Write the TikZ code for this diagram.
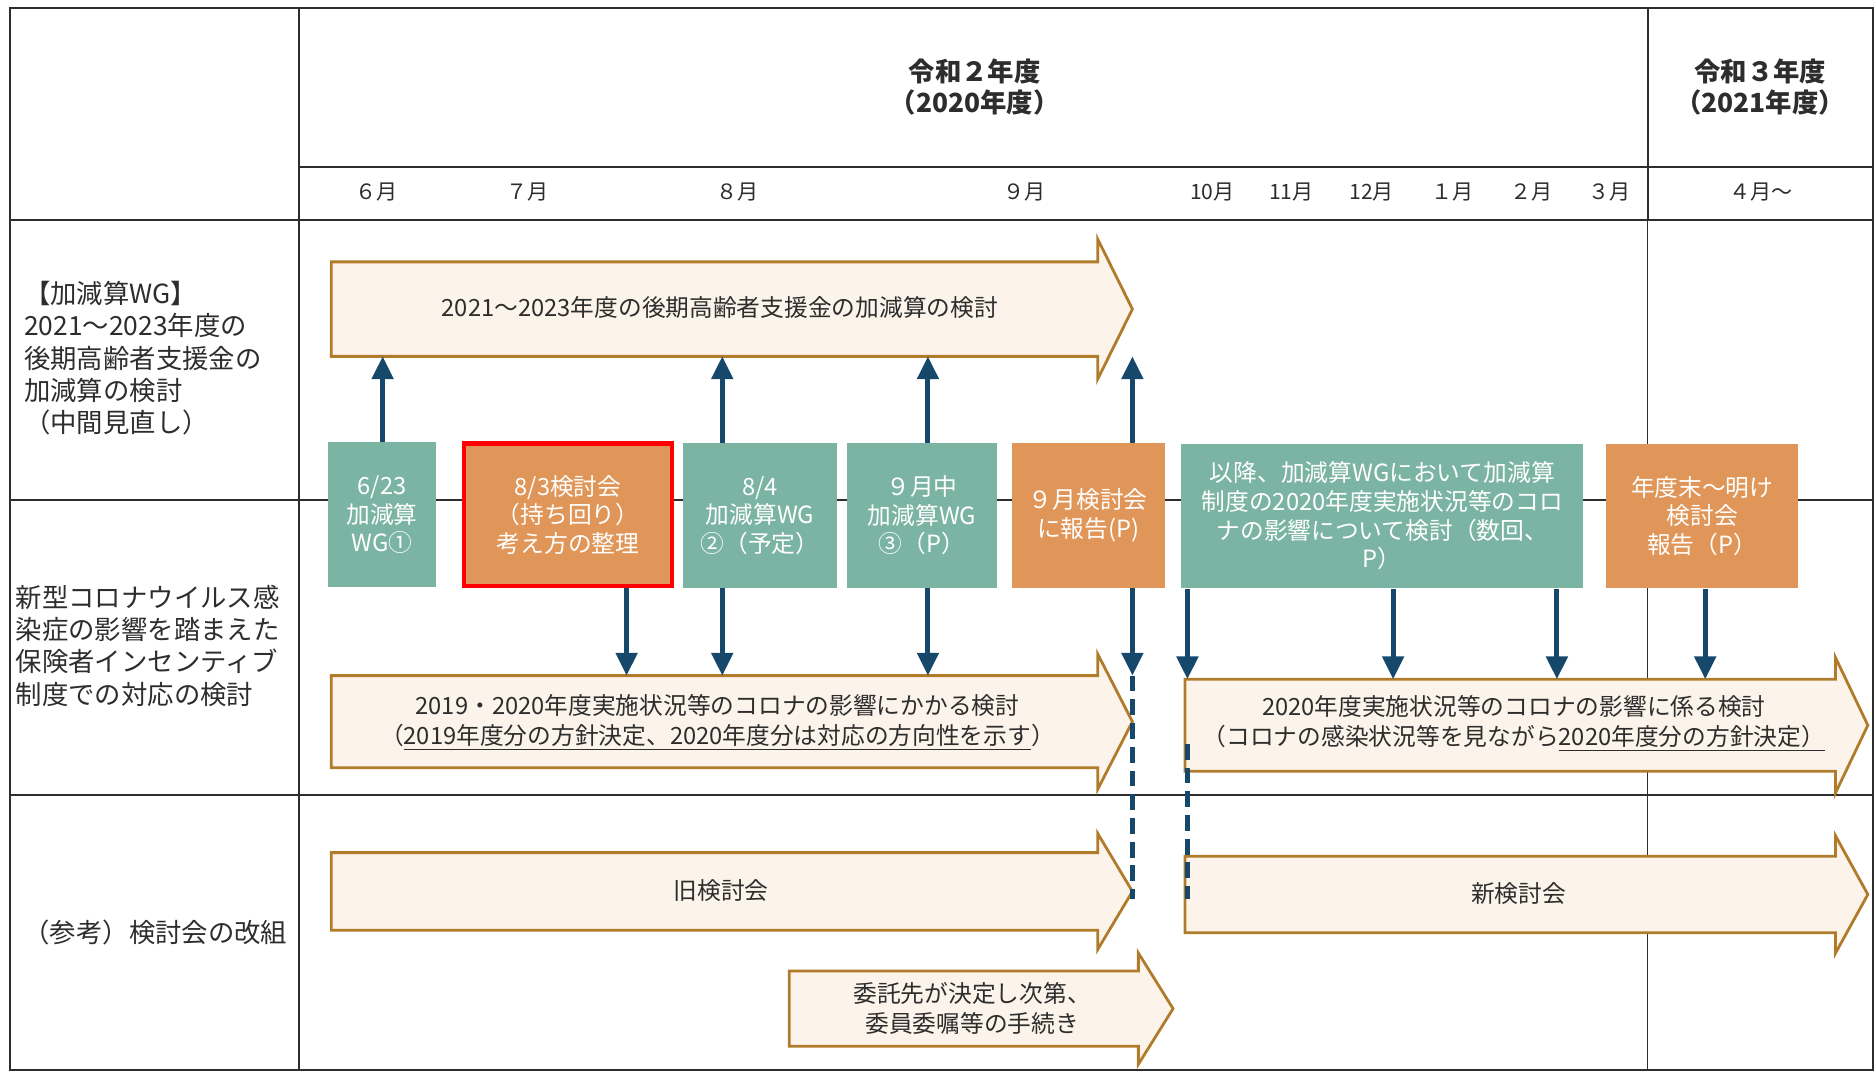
\documentclass[tikz,border=0pt]{standalone}
\usepackage{fontspec}
\setmainfont{Noto Sans CJK JP}
\usetikzlibrary{arrows.meta}

\definecolor{navy}{RGB}{22,72,108}
\definecolor{tealbg}{RGB}{124,180,164}
\definecolor{orangebg}{RGB}{224,150,88}
\definecolor{cream}{RGB}{252,244,234}
\definecolor{gold}{RGB}{176,124,44}
\definecolor{ink}{RGB}{45,45,45}

\newcommand{\pxu}{0.023916cm}

\tikzset{
  grid line/.style={draw=ink, line width=1.1pt},
  thin grid/.style={draw=ink, line width=0.7pt},
  flow/.style={draw=gold, fill=cream, line width=1.6pt, line join=miter},
  flowtext/.style={text=ink, inner sep=0pt, align=center, font=\fontsize{13.5}{17}\selectfont},
  plan/.style={draw=none, inner sep=0pt, align=center, text=white,
    minimum height=121*\pxu, font=\fontsize{13.5}{16.3}\selectfont},
  wgbox/.style={plan, fill=tealbg},
  meetbox/.style={plan, fill=orangebg},
  link/.style={draw=navy, line width=2.8pt, -{Triangle[length=13pt,width=12pt]}},
  linkdash/.style={draw=navy, line width=2.8pt, dash pattern=on 9pt off 4.5pt},
  rowlabel/.style={text=ink, inner sep=0pt, align=left, font=\fontsize{15}{18.4}\selectfont},
  month/.style={text=ink, inner sep=0pt, font=\fontsize{12}{14}\selectfont},
  year/.style={text=ink, inner sep=0pt, align=center, font=\fontsize{15}{17.7}\selectfont\bfseries},
}

% left, top, bottom, neck, tip, head extend
\newcommand{\flowarrow}[6]{%
  \draw[flow] (#1,#2) -- (#4,#2) -- (#4,#2-#6) -- (#5,{(#2+#3)/2})
    -- (#4,#3+#6) -- (#4,#3) -- (#1,#3) -- cycle;}

\begin{document}
\begin{tikzpicture}[x=\pxu, y=-\pxu]
\useasboundingbox (0,0) rectangle (1568,897);

% table
\draw[grid line] (8,7) rectangle (1566,895);
\draw[grid line] (250,7) -- (250,895);
\draw[grid line] (250,140) -- (1566,140);
\draw[grid line] (8,184) -- (1566,184);
\draw[grid line] (8,418) -- (1566,418);
\draw[grid line] (8,665) -- (1566,665);
\draw[grid line] (1378,7) -- (1378,184);
\draw[thin grid] (1378,184) -- (1378,895);

% header
\node[year] (r2) at (815,73) {令和２年度\\（2020年度）};
\node[year] (r3) at (1472,73) {令和３年度\\（2021年度）};
\node[month] (m6) at (315,161) {６月};
\node[month] (m7) at (441,161) {７月};
\node[month] (m8) at (617,161) {８月};
\node[month] (m9) at (857,161) {９月};
\node[month] (m10) at (1014,161) {10月};
\node[month] (m11) at (1080,161) {11月};
\node[month] (m12) at (1147,161) {12月};
\node[month] (m1) at (1215,161) {１月};
\node[month] (m2) at (1281,161) {２月};
\node[month] (m3) at (1346,161) {３月};
\node[month] (m4) at (1473,161) {４月～};

% row labels
\node[rowlabel, anchor=west] (rowwg) at (20,299.5) {【加減算WG】\\2021～2023年度の\\後期高齢者支援金の\\加減算の検討\\（中間見直し）};
\node[rowlabel, anchor=west] (rowcovid) at (13,540) {新型コロナウイルス感\\染症の影響を踏まえた\\保険者インセンティブ\\制度での対応の検討};
\node[rowlabel] (rowref) at (130,780) {（参考）検討会の改組};

% big arrows
\flowarrow{277}{219}{298}{918}{947}{19}
\flowarrow{277}{565}{642}{918}{947}{18}
\flowarrow{991}{568}{645}{1535}{1562}{18}
\flowarrow{277}{713}{778}{918}{947}{16}
\flowarrow{991}{716}{780}{1535}{1562}{17}
\flowarrow{660}{812}{875}{952}{981}{15}

\node[flowtext] (wgplan) at (602,257) {2021～2023年度の後期高齢者支援金の加減算の検討};
\node[flowtext] (covidold) at (600,604) {2019・2020年度実施状況等のコロナの影響にかかる検討\\（\underline{2019年度分の方針決定、2020年度分は対応の方向性を示す}）};
\node[flowtext] (covidnew) at (1266,605) {2020年度実施状況等のコロナの影響に係る検討\\（コロナの感染状況等を見ながら\underline{2020年度分の方針決定）}};
\node[flowtext] (oldmeet) at (603,745) {旧検討会};
\node[flowtext] (newmeet) at (1270,747) {新検討会};
\node[flowtext] (appoint) at (813,843) {委託先が決定し次第、\\委員委嘱等の手続き};

% boxes
\node[wgbox, minimum width=91*\pxu] (wg1) at (319.5,430.5) {6/23\\加減算\\WG①};
\node[meetbox, draw=red, line width=2.7pt, minimum width=174*\pxu, minimum height=119*\pxu] (meet83) at (475,430.5) {8/3検討会\\（持ち回り）\\考え方の整理};
\node[wgbox, minimum width=129*\pxu] (wg2) at (635.5,431) {8/4\\加減算WG\\②（予定）};
\node[wgbox, minimum width=126*\pxu] (wg3) at (771,431) {９月中\\加減算WG\\③（P）};
\node[meetbox, minimum width=128*\pxu] (meet9) at (910,431) {９月検討会\\に報告(P)};
\node[wgbox, minimum width=336*\pxu] (wglater) at (1156,431.5) {以降、加減算WGにおいて加減算\\制度の2020年度実施状況等のコロ\\ナの影響について検討（数回、\\P）};
\node[meetbox, minimum width=161*\pxu] (meetend) at (1423.5,431.5) {年度末～明け\\検討会\\報告（P）};

% links
\coordinate (u1) at (320,298);
\coordinate (u2) at (604,298);
\coordinate (u3) at (776,298);
\coordinate (u4) at (947,298);
\coordinate (d1) at (524,565);
\coordinate (d2) at (604,565);
\coordinate (d3) at (776,565);
\coordinate (d4) at (947,565);
\coordinate (d5) at (993,568);
\coordinate (d6) at (1165,568);
\coordinate (d7) at (1302,568);
\coordinate (d8) at (1426,568);
\coordinate (oldend) at (947,752);
\coordinate (newstart) at (993,622);
\coordinate (newend) at (993,752);

\draw[link] (wg1.north -| u1) -- (u1);
\draw[link] (wg2.north -| u2) -- (u2);
\draw[link] (wg3.north -| u3) -- (u3);
\draw[link] (meet9.north -| u4) -- (u4);

\draw[link] (meet83.south -| d1) -- (d1);
\draw[link] (wg2.south -| d2) -- (d2);
\draw[link] (wg3.south -| d3) -- (d3);
\draw[link] (meet9.south -| d4) -- (d4);
\draw[link] (wglater.south -| d5) -- (d5);
\draw[link] (wglater.south -| d6) -- (d6);
\draw[link] (wglater.south -| d7) -- (d7);
\draw[link] (meetend.south -| d8) -- (d8);

\draw[linkdash] (d4) -- (oldend);
\draw[linkdash] (newstart) -- (newend);

\end{tikzpicture}
\end{document}
